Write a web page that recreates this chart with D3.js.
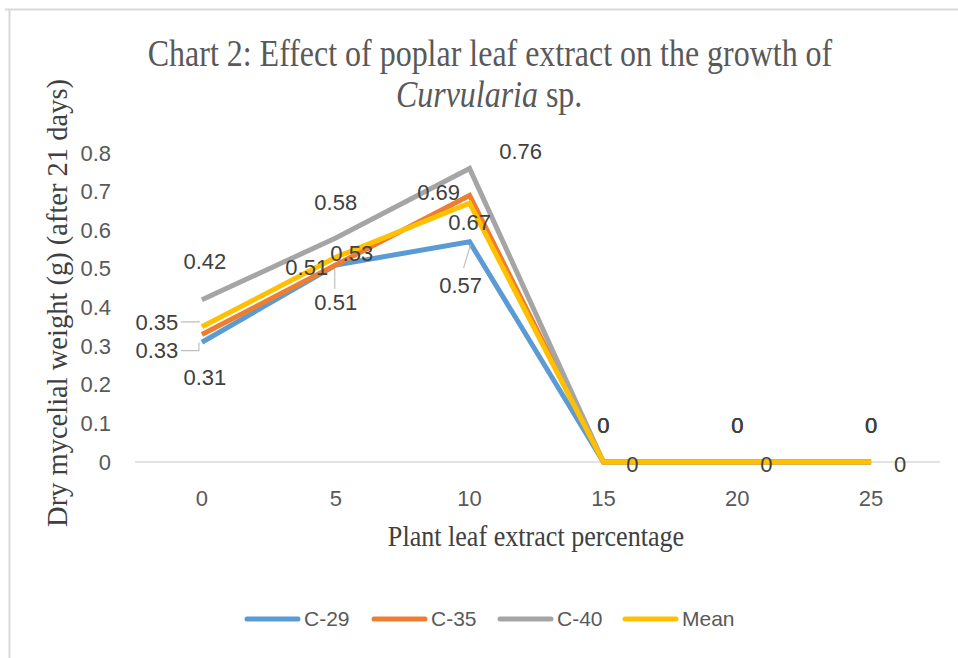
<!DOCTYPE html>
<html>
<head>
<meta charset="utf-8">
<script src="https://cdn.jsdelivr.net/npm/d3@7"></script>
<style>
  body { margin: 0; background: #fff; }
  svg { display: block; }
</style>
</head>
<body>
<svg id="chart" width="958" height="658"></svg>
<script>
// chart values
const categories = ['0', '5', '10', '15', '20', '25'];
const yTicks = [0, 0.1, 0.2, 0.3, 0.4, 0.5, 0.6, 0.7, 0.8];
const seriesNames = ['C-29', 'C-35', 'C-40', 'Mean'];
const c29 = [0.31, 0.51, 0.57, 0, 0, 0];
const c35 = [0.33, 0.51, 0.69, 0, 0, 0];
const c40 = [0.42, 0.58, 0.76, 0, 0, 0];
const mean = [0.35, 0.53, 0.67, 0, 0, 0];

const colors = ['#5b9bd5', '#ed7d31', '#a5a5a5', '#ffc000'];

// label placement per series / point (dx, dy from point, leader line flag)
const labelPos = [
  [[3, 35], [0, 37, 'v'], [-9, 43, 'd'], [29, 2], [29, 2], [29, 2]],
  [[-45, 16, 'l'], [-29, 2], [-31, -3], [0, -37], [0, -37], [0, -37]],
  [[3, -38], [0, -36], [51, -17], [0, -37], [0, -37], [0, -37]],
  [[-45, -5, 'l'], [16, -4], [0, 19], [0, -37], [0, -37], [0, -37]]
];

const svg = d3.select('#chart');

// frame
svg.append('line').attr('x1', 5).attr('x2', 958).attr('y1', 9.5).attr('y2', 9.5)
  .attr('stroke', '#d9d9d9').attr('stroke-width', 2);
svg.append('line').attr('x1', 9.5).attr('x2', 9.5).attr('y1', 9).attr('y2', 658)
  .attr('stroke', '#d9d9d9').attr('stroke-width', 2);

const x = d3.scaleBand().domain(categories).range([135, 938]);
const y = d3.scaleLinear().domain([0, 0.8]).range([462, 153]);
const cx = d => x(d) + x.bandwidth() / 2;

// title (serif, slightly condensed like the source)
const title = svg.append('text')
  .attr('transform', 'translate(490,0) scale(0.864,1)')
  .attr('text-anchor', 'middle')
  .attr('font-family', 'Liberation Serif, serif').attr('font-size', 37)
  .attr('fill', '#595959');
title.append('tspan').attr('x', 0).attr('y', 66)
  .text('Chart 2: Effect of poplar leaf extract on the growth of');
const t2 = title.append('tspan').attr('x', -1).attr('y', 107);
t2.append('tspan').attr('font-style', 'italic').text('Curvularia');
t2.append('tspan').text(' sp.');

// y axis title
svg.append('text')
  .attr('transform', 'translate(67,303) rotate(-90)')
  .attr('text-anchor', 'middle')
  .attr('font-family', 'Liberation Serif, serif').attr('font-size', 28.5)
  .attr('fill', '#404040')
  .text('Dry mycelial weight (g) (after 21 days)');

// x axis title
svg.append('text')
  .attr('transform', 'translate(536,546) scale(0.87,1)')
  .attr('text-anchor', 'middle')
  .attr('font-family', 'Liberation Serif, serif').attr('font-size', 30)
  .attr('fill', '#404040')
  .text('Plant leaf extract percentage');

// y axis
const yAxis = d3.axisLeft(y).tickValues(yTicks).tickSize(0).tickPadding(0)
  .tickFormat(d => d === 0 ? '0' : d3.format('.1f')(d));
const gy = svg.append('g').attr('transform', 'translate(111,0)').call(yAxis);
gy.select('.domain').remove();
gy.selectAll('text').attr('font-family', 'Liberation Sans, sans-serif')
  .attr('font-size', 22).attr('fill', '#595959');

// x axis
const xAxis = d3.axisBottom(x).tickSize(0).tickPadding(28);
const gx = svg.append('g').attr('transform', 'translate(0,462)').call(xAxis);
gx.select('.domain').attr('stroke', '#d9d9d9').attr('stroke-width', 1.5)
  .attr('d', 'M135,0H940');
gx.selectAll('text').attr('font-family', 'Liberation Sans, sans-serif')
  .attr('font-size', 22).attr('fill', '#595959');

// lines
const allSeries = [c29, c35, c40, mean];
const line = d3.line().x((d, i) => cx(categories[i])).y(d => y(d));
allSeries.forEach((s, k) => {
  svg.append('path').datum(s)
    .attr('d', line).attr('fill', 'none')
    .attr('stroke', colors[k]).attr('stroke-width', 5)
    .attr('stroke-linejoin', 'miter');
});

// data labels
allSeries.forEach((s, k) => {
  s.forEach((v, i) => {
    const px = cx(categories[i]);
    const py = y(v);
    const [dx, dy, lead] = labelPos[k][i];
    const lx = px + dx, ly = py + dy;
    svg.append('text')
      .attr('x', lx).attr('y', ly).attr('dy', '0.35em')
      .attr('text-anchor', 'middle')
      .attr('font-family', 'Liberation Sans, sans-serif').attr('font-size', 22)
      .attr('fill', '#404040')
      .text(v === 0 ? '0' : d3.format('.2f')(v));
    if (lead) {
      let pts;
      if (lead === 'l') pts = [[lx + 24, ly], [px - 3, ly], [px - 3, py + (ly > py ? 8 : -6)]];
      else if (lead === 'v') pts = [[px - 1, py + 4], [px - 1, ly - 13]];
      else pts = [[px + 1, py + 3], [px - 6, ly - 17]];
      svg.append('path').attr('d', d3.line()(pts)).attr('fill', 'none')
        .attr('stroke', '#bfbfbf').attr('stroke-width', 1.2);
    }
  });
});

// legend
const legendX = [245, 372, 498, 623];
seriesNames.forEach((n, k) => {
  const g = svg.append('g').attr('transform', `translate(${legendX[k]},619)`);
  g.append('line').attr('x1', 2).attr('x2', 53).attr('y1', 0).attr('y2', 0)
    .attr('stroke', colors[k]).attr('stroke-width', 5).attr('stroke-linecap', 'round');
  g.append('text').attr('x', 59).attr('dy', '0.35em')
    .attr('font-family', 'Liberation Sans, sans-serif').attr('font-size', 21)
    .attr('fill', '#595959').text(n);
});
</script>
</body>
</html>
